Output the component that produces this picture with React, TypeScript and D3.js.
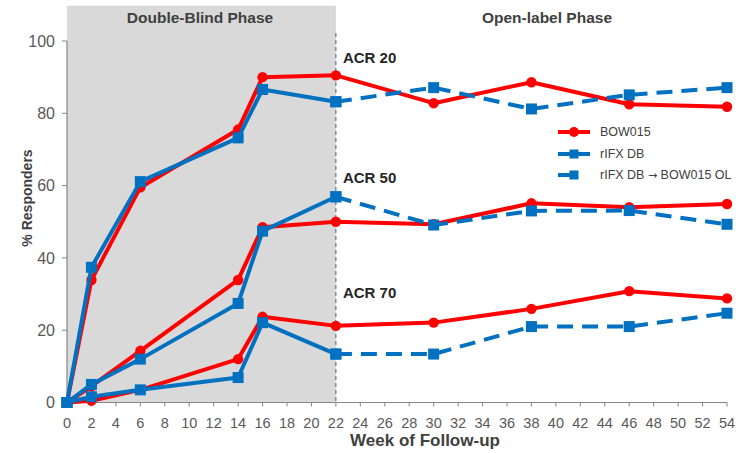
import * as d3 from "d3";

// weeks at which responders were assessed
const weeksAll = [0, 2, 6, 14, 16, 22, 30, 38, 46, 54];
const weeksDB = [0, 2, 6, 14, 16, 22];
const weeksOL = [22, 30, 38, 46, 54];
const xTicks = d3.range(0, 55, 2);
const yTicks = [0, 20, 40, 60, 80, 100];

// % responders, BOW015 arm (DB + OL)
const bow015Acr20 = [0, 33.9, 59.5, 75.5, 90, 90.5, 82.8, 88.6, 82.5, 81.8];
const bow015Acr50 = [0, 4.5, 14.3, 33.9, 48.5, 50, 49.3, 55.1, 54, 54.9];
const bow015Acr70 = [0, 0.5, 3.5, 12, 23.7, 21.2, 22.1, 25.9, 30.8, 28.8];

// % responders, rIFX arm during double-blind phase
const rifxDbAcr20 = [0, 37.4, 61.1, 73.2, 86.6, 83.2];
const rifxDbAcr50 = [0, 5, 12, 27.4, 47.4, 56.9];
const rifxDbAcr70 = [0, 1.6, 3.5, 6.9, 22.1, 13.4];

// % responders, rIFX arm switched to BOW015 in open-label phase
const rifxOlAcr20 = [83.2, 87.1, 81.2, 85.1, 87.1];
const rifxOlAcr50 = [56.9, 49.1, 53, 53.1, 49.3];
const rifxOlAcr70 = [13.4, 13.4, 21, 21, 24.7];

const acrLabels = ["ACR 20", "ACR 50", "ACR 70"];
const legendLabels = ["BOW015", "rIFX DB", "rIFX DB \u2192 BOW015 OL"];

const WIDTH = 747;
const HEIGHT = 453;
const RED = "#FF0000";
const BLUE = "#0070C0";
const AXIS = "#868686";
const TEXT = "#595959";
const TITLE = "#404040";
const BOLD = "'Liberation Sans', Arial, sans-serif";
const NARROW = "'Liberation Sans Narrow', 'Liberation Sans', sans-serif";

const x = d3.scaleLinear().domain([0, 54]).range([67, 727]);
const y = d3.scaleLinear().domain([0, 100]).range([402.5, 41]);

type Pt = [number, number];
const zip = (w: number[], v: number[]): Pt[] => w.map((d, i) => [d, v[i]]);
const line = d3
  .line<Pt>()
  .x((d) => x(d[0]))
  .y((d) => y(d[1]));

const SQ = 11;

function Circles({ pts }: { pts: Pt[] }) {
  return (
    <>
      {pts.map((p, i) => (
        <circle key={i} cx={x(p[0])} cy={y(p[1])} r={5.2} fill={RED} />
      ))}
    </>
  );
}

function Squares({ pts }: { pts: Pt[] }) {
  return (
    <>
      {pts.map((p, i) => (
        <rect key={i} x={x(p[0]) - SQ / 2} y={y(p[1]) - SQ / 2} width={SQ} height={SQ} fill={BLUE} />
      ))}
    </>
  );
}

// render "→" with a font that has a full-size arrow glyph
function LegendText({ label }: { label: string }) {
  const parts = label.split("\u2192");
  if (parts.length === 1) return <>{label}</>;
  return (
    <>
      {parts[0]}
      <tspan fontFamily="'DejaVu Sans', sans-serif" fontSize={11}>
        {"\u2192"}
      </tspan>
      {parts[1]}
    </>
  );
}

export default function App() {
  const red = [bow015Acr20, bow015Acr50, bow015Acr70].map((v) => zip(weeksAll, v));
  const blueDb = [rifxDbAcr20, rifxDbAcr50, rifxDbAcr70].map((v) => zip(weeksDB, v));
  const blueOl = [rifxOlAcr20, rifxOlAcr50, rifxOlAcr70].map((v) => zip(weeksOL, v));
  const acrY = [58, 178, 293];
  const legY = [132, 154, 175];

  return (
    <>
      <style>{`body{margin:0}`}</style>
      <svg width={WIDTH} height={HEIGHT} style={{ display: "block", background: "#fff" }}>
        {/* double-blind shading */}
        <rect x={x(0)} y={5.7} width={x(22) - x(0)} height={y(0) - 5.7} fill="#D9D9D9" />
        <line x1={x(22)} x2={x(22)} y1={33} y2={y(0)} stroke="#3F5F8A" strokeWidth={1} strokeDasharray="4,3" />

        <text x={200} y={23} textAnchor="middle" fontFamily={BOLD} fontWeight="bold" fontSize={15.5} fill={TITLE}>
          Double-Blind Phase
        </text>
        <text x={547} y={23} textAnchor="middle" fontFamily={BOLD} fontWeight="bold" fontSize={15.5} fill={TITLE}>
          Open-label Phase
        </text>

        {/* y axis */}
        <line x1={x(0)} x2={x(0)} y1={y(100)} y2={y(0)} stroke={AXIS} strokeWidth={1.2} />
        {yTicks.map((t) => (
          <g key={t}>
            <line x1={x(0) - 5} x2={x(0)} y1={y(t)} y2={y(t)} stroke={AXIS} />
            <text x={55} y={y(t)} dy="0.35em" textAnchor="end" fontFamily={NARROW} fontSize={16} fill={TEXT}>
              {t}
            </text>
          </g>
        ))}
        <text
          transform={`translate(27,198) rotate(-90)`}
          textAnchor="middle"
          dy="0.35em"
          fontFamily={BOLD}
          fontWeight="bold"
          fontSize={14}
          fill={TITLE}
        >
          % Responders
        </text>

        {/* x axis */}
        <line x1={x(0)} x2={x(54)} y1={y(0)} y2={y(0)} stroke={AXIS} strokeWidth={1.2} />
        {xTicks.map((t) => (
          <g key={t}>
            <line x1={x(t)} x2={x(t)} y1={y(0)} y2={y(0) + 4} stroke={AXIS} />
            <text x={x(t)} y={423} dy="0.35em" textAnchor="middle" fontFamily={NARROW} fontSize={14.5} fill={TEXT}>
              {t}
            </text>
          </g>
        ))}
        <text x={425} y={446} textAnchor="middle" fontFamily={BOLD} fontWeight="bold" fontSize={17} fill={TITLE}>
          Week of Follow-up
        </text>

        {/* series */}
        {red.map((pts, i) => (
          <g key={"r" + i}>
            <path d={line(pts) ?? ""} fill="none" stroke={RED} strokeWidth={4} strokeLinejoin="round" />
            <Circles pts={pts} />
          </g>
        ))}
        {blueOl.map((pts, i) => (
          <path key={"bo" + i} d={line(pts) ?? ""} fill="none" stroke={BLUE} strokeWidth={4} strokeDasharray="16,9" />
        ))}
        {blueDb.map((pts, i) => (
          <g key={"bd" + i}>
            <path d={line(pts) ?? ""} fill="none" stroke={BLUE} strokeWidth={4} strokeLinejoin="round" />
            <Squares pts={pts} />
          </g>
        ))}
        {blueOl.map((pts, i) => (
          <Squares key={"bs" + i} pts={pts} />
        ))}

        {/* ACR labels */}
        {acrLabels.map((l, i) => (
          <text key={l} x={x(22) + 7} y={acrY[i]} dy="0.35em" fontFamily={BOLD} fontWeight="bold" fontSize={15} fill="#262626">
            {l}
          </text>
        ))}

        {/* legend */}
        <g>
          <line x1={558} x2={590} y1={legY[0]} y2={legY[0]} stroke={RED} strokeWidth={4} />
          <circle cx={574} cy={legY[0]} r={5} fill={RED} />
          <line x1={558} x2={590} y1={legY[1]} y2={legY[1]} stroke={BLUE} strokeWidth={4} />
          <rect x={574 - 4.5} y={legY[1] - 4.5} width={9} height={9} fill={BLUE} />
          <line x1={558} x2={590} y1={legY[2]} y2={legY[2]} stroke={BLUE} strokeWidth={4} strokeDasharray="20,14" />
          <rect x={574 - 4.5} y={legY[2] - 4.5} width={9} height={9} fill={BLUE} />
          {legendLabels.map((l, i) => (
            <text key={l} x={600} y={legY[i]} dy="0.35em" fontFamily={NARROW} fontSize={12.5} fill={TITLE}>
              <LegendText label={l} />
            </text>
          ))}
        </g>
      </svg>
    </>
  );
}
